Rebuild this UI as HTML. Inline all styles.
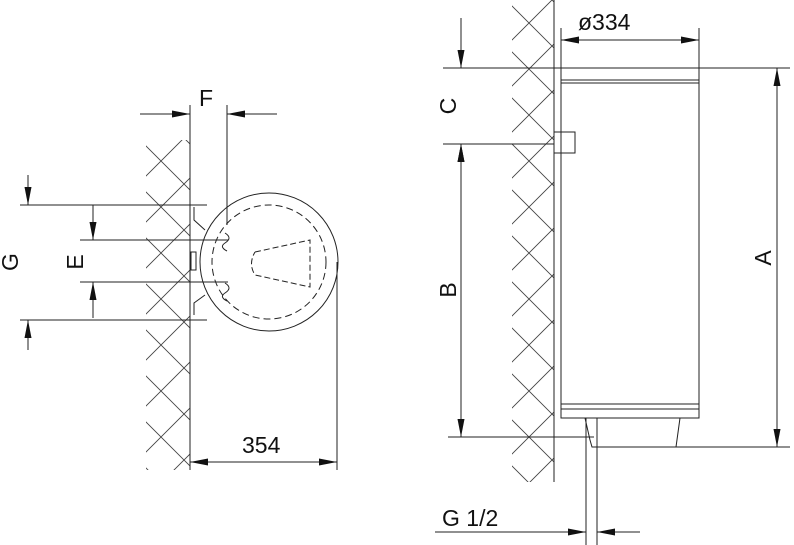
<!DOCTYPE html>
<html><head><style>body{margin:0;background:#fff}svg{display:block}text{font-family:"Liberation Sans",sans-serif;fill:#111}</style></head><body>
<svg width="794" height="545" viewBox="0 0 794 545" xmlns="http://www.w3.org/2000/svg">
<defs>
<marker id="a" viewBox="0 0 18 7" refX="18" refY="3.5" markerWidth="18" markerHeight="7" markerUnits="userSpaceOnUse" orient="auto-start-reverse"><path d="M0,0L18,3.5L0,7z" fill="#111"/></marker>
<pattern id="h" width="46" height="46" patternUnits="userSpaceOnUse"><path d="M0,0L46,46M46,0L0,46" stroke="#444" stroke-width="0.9" fill="none"/></pattern>
</defs>
<g stroke="#222" stroke-width="1" fill="none">
<rect x="146" y="140" width="44" height="330" fill="url(#h)" stroke="none"/>
<rect x="512" y="0" width="42" height="482" fill="url(#h)" stroke="none"/>
<!-- left figure -->
<line x1="190" y1="105" x2="190" y2="470"/>
<line x1="227" y1="105" x2="227" y2="225"/>
<line x1="140" y1="114" x2="190" y2="114" marker-end="url(#a)"/>
<line x1="277" y1="114" x2="227" y2="114" marker-end="url(#a)"/>
<circle cx="269" cy="262" r="69"/>
<circle cx="269" cy="262" r="57" stroke-dasharray="7,4"/>
<path d="M255,252 L310,240 L310,287 L255,275 Q248,264 255,252" stroke-dasharray="6,3"/>
<rect x="191" y="252" width="5" height="18"/>
<path d="M194,207 L194,220 L205,230 M194,315 L194,303 L205,295"/>
<path d="M225,233 q8,5 0,10 q-6,4 2,8 M225,283 q8,5 0,10 q-6,4 2,8" />
<line x1="20" y1="205" x2="207" y2="205"/>
<line x1="20" y1="320" x2="207" y2="320"/>
<line x1="80" y1="240" x2="228" y2="240"/>
<line x1="80" y1="282" x2="228" y2="282"/>
<line x1="28" y1="175" x2="28" y2="205" marker-end="url(#a)"/>
<line x1="28" y1="350" x2="28" y2="320" marker-end="url(#a)"/>
<line x1="93" y1="205" x2="93" y2="240" marker-end="url(#a)"/>
<line x1="93" y1="318" x2="93" y2="282" marker-end="url(#a)"/>
<line x1="337" y1="262" x2="337" y2="470"/>
<line x1="190" y1="462" x2="337" y2="462" marker-end="url(#a)" marker-start="url(#a)"/>
<!-- right figure -->
<line x1="554" y1="0" x2="554" y2="482"/>
<line x1="561" y1="28" x2="561" y2="68"/>
<line x1="699" y1="28" x2="699" y2="68"/>
<line x1="561" y1="40" x2="699" y2="40" marker-end="url(#a)" marker-start="url(#a)"/>
<line x1="443" y1="68" x2="790" y2="68"/>
<path d="M561,68 L561,418 L699,418 L699,68"/>
<line x1="561" y1="80" x2="699" y2="80"/><line x1="561" y1="83" x2="699" y2="83"/>
<line x1="561" y1="404" x2="699" y2="404"/><line x1="561" y1="409" x2="699" y2="409"/>
<path d="M585,418 L590,440 L592,447 L790,447 M680,418 L676,447"/>
<line x1="586" y1="418" x2="586" y2="545"/><line x1="597" y1="418" x2="597" y2="545"/>
<rect x="554" y="132" width="21" height="21"/>
<line x1="443" y1="144" x2="554" y2="144"/>
<line x1="448" y1="437" x2="594" y2="437"/>
<line x1="461" y1="18" x2="461" y2="68" marker-end="url(#a)"/>
<line x1="461" y1="194" x2="461" y2="144" marker-end="url(#a)"/>
<line x1="461" y1="144" x2="461" y2="437" marker-end="url(#a)" marker-start="url(#a)"/>
<line x1="777" y1="68" x2="777" y2="447" marker-end="url(#a)" marker-start="url(#a)"/>
<line x1="435" y1="532" x2="586" y2="532" marker-end="url(#a)"/>
<line x1="640" y1="532" x2="597" y2="532" marker-end="url(#a)"/>
</g>
<g font-size="23">
<text x="199" y="106">F</text>
<text x="242" y="453">354</text>
<text x="578" y="30">ø334</text>
<text x="442" y="526">G 1/2</text>
<text transform="translate(18,262) rotate(-90)" text-anchor="middle">G</text>
<text transform="translate(83,262) rotate(-90)" text-anchor="middle">E</text>
<text transform="translate(456,106) rotate(-90)" text-anchor="middle">C</text>
<text transform="translate(456,290) rotate(-90)" text-anchor="middle">B</text>
<text transform="translate(771,258) rotate(-90)" text-anchor="middle">A</text>
</g>
</svg>
</body></html>
